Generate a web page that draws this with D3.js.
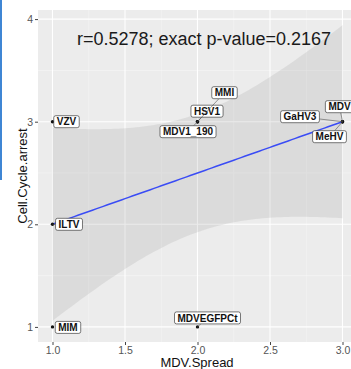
<!DOCTYPE html>
<html>
<head>
<meta charset="utf-8">
<script src="https://cdn.jsdelivr.net/npm/d3@7"></script>
<style>
  body { margin: 0; background: #fff; }
  svg { display: block; font-family: "Liberation Sans", Arial, sans-serif; }
</style>
</head>
<body>
<div id="graph"></div>
<script>
// data
const virus = ["VZV", "ILTV", "MIM", "HSV1", "MMI", "MDV1_190", "MDVEGFPCt", "MDV", "GaHV3", "MeHV"];
const mdvSpread = [1, 1, 1, 2, 2, 2, 2, 3, 3, 3];
const cellCycleArrest = [3, 2, 1, 3, 3, 3, 1, 3, 3, 3];
const xTicks = [1.0, 1.5, 2.0, 2.5, 3.0];
const yTicks = [1, 2, 3, 4];
const statText = "r=0.5278; exact p-value=0.2167";

// label repel offsets (px, from point to label centre) - layout only
const labelNudge = {
  VZV: [14, 0], ILTV: [16.5, 0], MIM: [15.5, 0.5], HSV1: [9.5, -10.5], MMI: [27, -29],
  MDV1_190: [-9.5, 10], MDVEGFPCt: [10, -9], MDV: [-3, -15], GaHV3: [-42.5, -5], MeHV: [-13, 15]
};

const W = 351, H = 369;
const panel = { left: 38, right: 357, top: 10, bottom: 342 };

const pts = virus.map((v, i) => ({ name: v, x: mdvSpread[i], y: cellCycleArrest[i] }));

// linear fit + 95% confidence band (what geom_smooth(method = lm) does)
const n = pts.length;
const mx = d3.mean(pts, d => d.x), my = d3.mean(pts, d => d.y);
const sxx = d3.sum(pts, d => (d.x - mx) ** 2);
const sxy = d3.sum(pts, d => (d.x - mx) * (d.y - my));
const slope = sxy / sxx, icpt = my - slope * mx;
const rss = d3.sum(pts, d => (d.y - icpt - slope * d.x) ** 2);
const s = Math.sqrt(rss / (n - 2));
const tcrit = 2.306; // t(0.975, df = 8)
const xmin = d3.min(mdvSpread), xmax = d3.max(mdvSpread);
const band = d3.range(0, 81).map(k => {
  const x = xmin + (xmax - xmin) * k / 80;
  const fit = icpt + slope * x;
  const se = s * Math.sqrt(1 / n + (x - mx) ** 2 / sxx);
  return { x: x, lo: fit - tcrit * se, hi: fit + tcrit * se, fit: fit };
});

// ggplot style 5% expansion
const xPad = 0.05 * (xmax - xmin);
const yLo = Math.min(d3.min(cellCycleArrest), d3.min(band, d => d.lo));
const yHi = Math.max(d3.max(cellCycleArrest), d3.max(band, d => d.hi));
const yPad = 0.05 * (yHi - yLo);

const x = d3.scaleLinear().domain([xmin - xPad, xmax + xPad]).range([panel.left, panel.right]);
const y = d3.scaleLinear().domain([yLo - yPad, yHi + yPad]).range([panel.bottom, panel.top]);

const svg = d3.select("#graph").append("svg")
  .attr("width", W).attr("height", H);

// blue edge from the screenshot
svg.append("rect").attr("x", 0).attr("y", 0).attr("width", 2).attr("height", 180).attr("fill", "#3f86d4");

// panel
svg.append("rect")
  .attr("x", panel.left).attr("y", panel.top)
  .attr("width", panel.right - panel.left).attr("height", panel.bottom - panel.top)
  .attr("fill", "#ececec");

// minor grid
const xMinor = d3.range(xTicks.length - 1).map(i => (xTicks[i] + xTicks[i + 1]) / 2);
const yMinor = d3.range(yTicks.length - 1).map(i => (yTicks[i] + yTicks[i + 1]) / 2);
const grid = svg.append("g");
grid.selectAll(".xm").data(xMinor).enter().append("line")
  .attr("x1", d => x(d)).attr("x2", d => x(d)).attr("y1", panel.top).attr("y2", panel.bottom)
  .attr("stroke", "#f6f6f6").attr("stroke-width", 0.6);
grid.selectAll(".ym").data(yMinor).enter().append("line")
  .attr("y1", d => y(d)).attr("y2", d => y(d)).attr("x1", panel.left).attr("x2", panel.right)
  .attr("stroke", "#f6f6f6").attr("stroke-width", 0.6);
grid.selectAll(".xM").data(xTicks).enter().append("line")
  .attr("x1", d => x(d)).attr("x2", d => x(d)).attr("y1", panel.top).attr("y2", panel.bottom)
  .attr("stroke", "#fff").attr("stroke-width", 1.1);
grid.selectAll(".yM").data(yTicks).enter().append("line")
  .attr("y1", d => y(d)).attr("y2", d => y(d)).attr("x1", panel.left).attr("x2", panel.right)
  .attr("stroke", "#fff").attr("stroke-width", 1.1);

// confidence band
svg.append("path").datum(band)
  .attr("d", d3.area().x(d => x(d.x)).y0(d => y(d.lo)).y1(d => y(d.hi)))
  .attr("fill", "#999").attr("fill-opacity", 0.2);

// fit line
svg.append("path").datum(band)
  .attr("d", d3.line().x(d => x(d.x)).y(d => y(d.fit)))
  .attr("fill", "none").attr("stroke", "#3a4cf5").attr("stroke-width", 1.5);

// points
svg.selectAll(".pt").data(pts).enter().append("circle")
  .attr("cx", d => x(d.x)).attr("cy", d => y(d.y)).attr("r", 1.7).attr("fill", "#111");

// labels (repel-style boxes)
const labG = svg.append("g");
pts.forEach(d => {
  const px = x(d.x), py = y(d.y);
  const off = labelNudge[d.name];
  const cx = px + off[0], cy = py + off[1];
  const g = labG.append("g");
  const t = g.append("text").attr("x", cx).attr("y", cy + 3.6)
    .attr("text-anchor", "middle").attr("font-size", 10).attr("font-weight", "bold")
    .attr("fill", "#111").text(d.name);
  const tw = t.node().getComputedTextLength();
  const bw = tw + 6, bh = 12;
  const bx = cx - bw / 2, by = cy - bh / 2;
  // segment from point to box edge
  const dx = cx - px, dy = cy - py;
  const sc = Math.min(Math.abs((bw / 2) / (dx || 1e-9)), Math.abs((bh / 2) / (dy || 1e-9)));
  const ex = cx - dx * Math.min(sc, 1), ey = cy - dy * Math.min(sc, 1);
  const len = Math.hypot(ex - px, ey - py);
  if (len > 3) {
    g.insert("line", "text").attr("x1", px).attr("y1", py).attr("x2", ex).attr("y2", ey)
      .attr("stroke", "#555").attr("stroke-width", 0.6);
  }
  g.insert("rect", "text").attr("x", bx).attr("y", by).attr("width", bw).attr("height", bh)
    .attr("rx", 2).attr("fill", "#fff").attr("stroke", "#222").attr("stroke-width", 0.6);
});

// stat annotation
svg.append("text").attr("x", 204).attr("y", 45).attr("text-anchor", "middle")
  .attr("font-size", 18).attr("fill", "#1a1a1a").text(statText);

// axes
const xAxis = svg.append("g").attr("transform", "translate(0," + panel.bottom + ")")
  .call(d3.axisBottom(x).tickValues(xTicks).tickFormat(d3.format(".1f")).tickSize(3).tickPadding(1.5));
const yAxis = svg.append("g").attr("transform", "translate(" + panel.left + ",0)")
  .call(d3.axisLeft(y).tickValues(yTicks).tickFormat(d3.format("d")).tickSize(3).tickPadding(2));
[xAxis, yAxis].forEach(a => {
  a.select(".domain").remove();
  a.selectAll(".tick line").attr("stroke", "#444");
  a.selectAll(".tick text").attr("fill", "#555").attr("font-size", 10.5)
    .attr("font-family", "Liberation Sans, Arial, sans-serif");
});

svg.append("text").attr("x", 197).attr("y", 367).attr("text-anchor", "middle")
  .attr("font-size", 13).attr("fill", "#111").text("MDV.Spread");
svg.append("text").attr("transform", "translate(27,176)rotate(-90)").attr("text-anchor", "middle")
  .attr("font-size", 13).attr("fill", "#111").text("Cell.Cycle.arrest");
</script>
</body>
</html>
